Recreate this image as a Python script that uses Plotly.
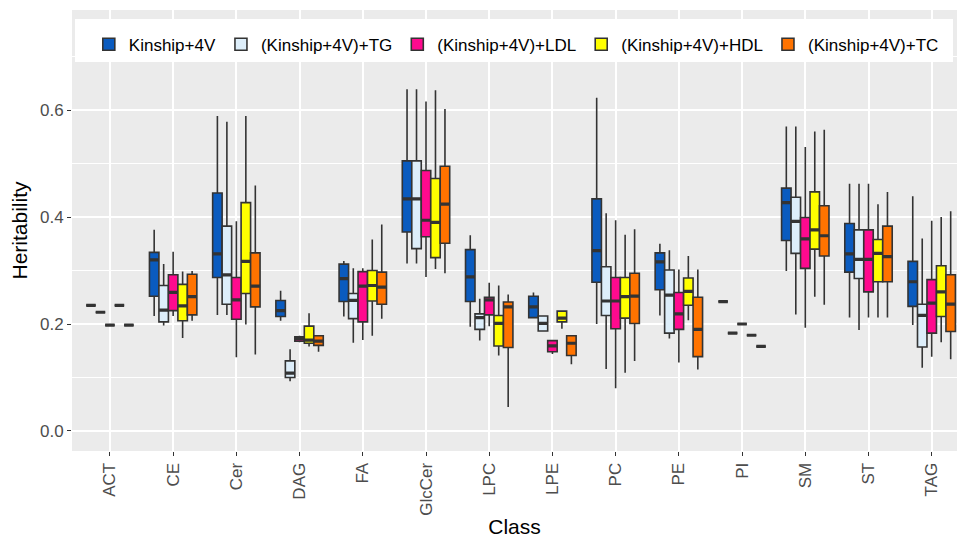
import plotly.graph_objects as go

classes = ["ACT", "CE", "Cer", "DAG", "FA", "GlcCer", "LPC", "LPE", "PC", "PE", "PI", "SM", "ST", "TAG"]
groups = ["Kinship+4V", "(Kinship+4V)+TG", "(Kinship+4V)+LDL", "(Kinship+4V)+HDL", "(Kinship+4V)+TC"]
colors = ["#0A5BBF", "#DDEEFA", "#FF0A8E", "#FFFF00", "#FF7300"]

# per group: lists over classes
k_low = [0.235, 0.215, 0.217, 0.206, 0.214, 0.313, 0.195, 0.212, 0.200, 0.216, 0.242, 0.299, 0.212, 0.198]
k_q1  = [0.235, 0.252, 0.287, 0.214, 0.242, 0.372, 0.242, 0.212, 0.278, 0.264, 0.242, 0.356, 0.297, 0.233]
k_med = [0.235, 0.320, 0.331, 0.225, 0.285, 0.434, 0.288, 0.232, 0.337, 0.316, 0.242, 0.427, 0.331, 0.279]
k_q3  = [0.235, 0.334, 0.445, 0.244, 0.312, 0.505, 0.339, 0.252, 0.434, 0.333, 0.242, 0.454, 0.388, 0.317]
k_up  = [0.235, 0.376, 0.589, 0.262, 0.318, 0.639, 0.366, 0.259, 0.623, 0.350, 0.242, 0.569, 0.462, 0.439]

tg_low = [0.222, 0.197, 0.217, 0.093, 0.165, 0.313, 0.169, 0.187, 0.116, 0.173, 0.183, 0.218, 0.189, 0.118]
tg_q1  = [0.222, 0.204, 0.237, 0.100, 0.210, 0.341, 0.190, 0.187, 0.216, 0.183, 0.183, 0.332, 0.285, 0.157]
tg_med = [0.222, 0.226, 0.292, 0.108, 0.244, 0.434, 0.212, 0.201, 0.243, 0.254, 0.183, 0.392, 0.321, 0.216]
tg_q3  = [0.222, 0.272, 0.383, 0.131, 0.257, 0.505, 0.219, 0.215, 0.307, 0.301, 0.183, 0.437, 0.376, 0.237]
tg_up  = [0.222, 0.312, 0.578, 0.153, 0.304, 0.639, 0.247, 0.215, 0.407, 0.338, 0.183, 0.569, 0.462, 0.360]

ldl_low = [0.198, 0.215, 0.138, 0.166, 0.170, 0.288, 0.196, 0.144, 0.080, 0.128, 0.200, 0.193, 0.212, 0.139]
ldl_q1  = [0.198, 0.225, 0.209, 0.168, 0.204, 0.363, 0.217, 0.148, 0.191, 0.190, 0.200, 0.304, 0.260, 0.183]
ldl_med = [0.198, 0.259, 0.245, 0.173, 0.271, 0.394, 0.245, 0.159, 0.243, 0.219, 0.200, 0.359, 0.321, 0.239]
ldl_q3  = [0.198, 0.292, 0.287, 0.176, 0.298, 0.487, 0.250, 0.169, 0.287, 0.259, 0.200, 0.399, 0.376, 0.283]
ldl_up  = [0.198, 0.335, 0.392, 0.178, 0.304, 0.616, 0.277, 0.169, 0.394, 0.302, 0.200, 0.531, 0.462, 0.393]

hdl_low = [0.235, 0.174, 0.199, 0.158, 0.178, 0.303, 0.141, 0.191, 0.109, 0.207, 0.179, 0.251, 0.212, 0.166]
hdl_q1  = [0.235, 0.206, 0.257, 0.164, 0.243, 0.324, 0.159, 0.204, 0.211, 0.235, 0.179, 0.340, 0.279, 0.214]
hdl_med = [0.235, 0.234, 0.317, 0.170, 0.272, 0.390, 0.201, 0.211, 0.251, 0.261, 0.179, 0.376, 0.332, 0.260]
hdl_q3  = [0.235, 0.274, 0.427, 0.196, 0.300, 0.472, 0.216, 0.224, 0.287, 0.286, 0.179, 0.447, 0.358, 0.309]
hdl_up  = [0.235, 0.298, 0.589, 0.220, 0.358, 0.637, 0.272, 0.224, 0.367, 0.327, 0.179, 0.560, 0.424, 0.400]

tc_low = [0.198, 0.206, 0.143, 0.148, 0.210, 0.295, 0.045, 0.125, 0.131, 0.115, 0.158, 0.236, 0.212, 0.134]
tc_q1  = [0.198, 0.217, 0.232, 0.160, 0.237, 0.351, 0.156, 0.141, 0.201, 0.139, 0.158, 0.327, 0.279, 0.186]
tc_med = [0.198, 0.251, 0.271, 0.168, 0.269, 0.424, 0.232, 0.164, 0.252, 0.190, 0.158, 0.365, 0.326, 0.237]
tc_q3  = [0.198, 0.293, 0.333, 0.178, 0.297, 0.495, 0.241, 0.178, 0.295, 0.250, 0.158, 0.421, 0.383, 0.292]
tc_up  = [0.198, 0.299, 0.459, 0.178, 0.386, 0.602, 0.255, 0.178, 0.377, 0.302, 0.158, 0.563, 0.447, 0.411]

stats = [
    (k_low, k_q1, k_med, k_q3, k_up),
    (tg_low, tg_q1, tg_med, tg_q3, tg_up),
    (ldl_low, ldl_q1, ldl_med, ldl_q3, ldl_up),
    (hdl_low, hdl_q1, hdl_med, hdl_q3, hdl_up),
    (tc_low, tc_q1, tc_med, tc_q3, tc_up),
]

y_ticks = [0.0, 0.2, 0.4, 0.6]

fig = go.Figure()
for name, col, (lo, q1, md, q3, up) in zip(groups, colors, stats):
    fig.add_trace(go.Box(
        x=classes, lowerfence=lo, q1=q1, median=md, q3=q3, upperfence=up,
        name=name, fillcolor=col, offsetgroup=name, legendgroup=name,
        line=dict(color="#333333", width=1.6),
        whiskerwidth=0, boxpoints=False,
    ))
    # thicker median bar (ggplot style)
    fig.add_trace(go.Box(
        x=classes, lowerfence=md, q1=md, median=md, q3=md, upperfence=md,
        name=name, fillcolor="rgba(0,0,0,0)", offsetgroup=name, legendgroup=name,
        line=dict(color="#333333", width=3.2), showlegend=False,
        whiskerwidth=0, boxpoints=False, hoverinfo="skip",
    ))

font_family = "Liberation Sans, Arial, sans-serif"
fig.update_layout(
    width=957, height=538,
    margin=dict(l=72, r=0, t=10, b=87),
    paper_bgcolor="white", plot_bgcolor="#EBEBEB",
    boxmode="group", boxgap=0.25, boxgroupgap=0,
    font=dict(family=font_family, color="black"),
    legend=dict(
        orientation="h", x=0.019, y=0.962, xanchor="left", yanchor="top",
        bgcolor="rgba(0,0,0,0)", font=dict(size=17, color="black"),
        itemwidth=30, tracegroupgap=0,
    ),
    shapes=[dict(
        type="rect", xref="paper", yref="paper",
        x0=(75 - 72) / 885, x1=(953 - 72) / 885,
        y0=(451 - 62) / 441, y1=(451 - 19) / 441,
        fillcolor="white", line=dict(width=0), layer="above",
    )],
    xaxis=dict(
        range=[-0.6, 13.40], showgrid=True, gridcolor="white", gridwidth=1.5,
        ticks="outside", ticklen=4, tickwidth=1.3, tickcolor="#333333",
        tickangle=-90, tickfont=dict(size=17, color="#4D4D4D"),
        title=dict(text="Class", font=dict(size=21, color="black"), standoff=6),
        zeroline=False,
    ),
    yaxis=dict(
        range=[-0.0374, 0.787], tickvals=y_ticks, tickformat=".1f",
        showgrid=True, gridcolor="white", gridwidth=1.5,
        minor=dict(dtick=0.1, tick0=0.1, showgrid=True, gridcolor="white", gridwidth=0.7),
        ticks="outside", ticklen=4, tickwidth=1.3, tickcolor="#333333",
        tickfont=dict(size=17, color="#4D4D4D"),
        title=dict(text="Heritability", font=dict(size=21, color="black"), standoff=6),
        zeroline=False,
    ),
)

fig.write_html("out.html")
